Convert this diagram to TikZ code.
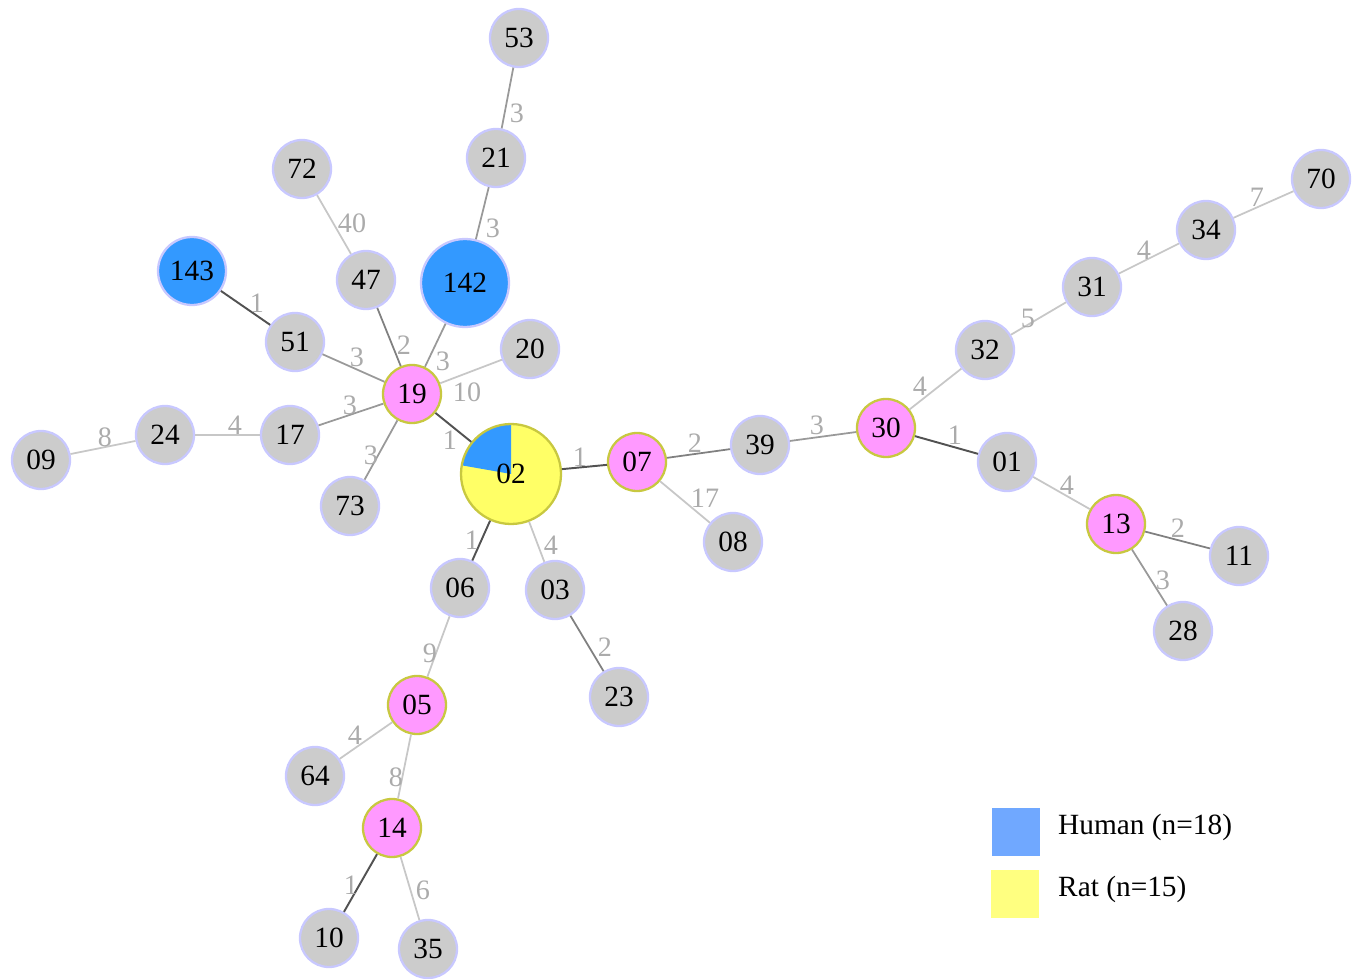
\documentclass[tikz,border=0pt]{standalone}
\usepackage{fontspec}
\setmainfont{Liberation Serif}
\definecolor{stgray}{HTML}{CCCCCC}
\definecolor{string}{HTML}{C8C8FF}
\definecolor{hubpink}{HTML}{FF99FF}
\definecolor{hubring}{HTML}{C8C840}
\definecolor{humanblue}{HTML}{3399FF}
\definecolor{ratyellow}{HTML}{FFFF66}
\definecolor{keyblue}{HTML}{70A8FF}
\definecolor{keyyellow}{HTML}{FFFF80}
\tikzstyle{isolate} = [circle,draw=string,line width=1.3pt,fill=stgray,minimum size=11.6mm,inner sep=0pt,font=\fontsize{16.7}{16.7}\selectfont]
\tikzstyle{hub} = [isolate,draw=hubring,fill=hubpink]
\tikzstyle{human} = [isolate,fill=humanblue]
\tikzstyle{weight} = [text=black!33,inner sep=0pt,font=\fontsize{16}{16}\selectfont]
\tikzstyle{wone} = [line width=1.1pt,black!68]
\tikzstyle{wtwo} = [line width=1pt,black!50]
\tikzstyle{wthree} = [line width=1pt,black!40]
\tikzstyle{wfar} = [line width=1pt,black!22]

\begin{document}
\begin{tikzpicture}[x=0.2mm,y=-0.2mm]
	\useasboundingbox (0,0) rectangle (1357,979);
	% sequence types
	\foreach \id/\x/\y in {53/519/38,21/496/158,72/302/169,47/366/280,51/295/342,20/530/349,17/290/435,24/165/435,09/41/460,73/350/506,39/760/445,08/733/542,32/985/350,31/1092/287,34/1206/230,70/1321/179,01/1007/462,11/1239/556,28/1183/631,06/460/588,03/555/590,23/619/697,64/315/776,10/329/938,35/428/949} {
		\node[isolate] (n\id) at (\x,\y) {\id};
	}
	\foreach \id/\x/\y in {19/412/394,07/637/462,30/886/428,13/1116/524,05/417/705,14/392/828} {
		\node[hub] (n\id) at (\x,\y) {\id};
	}
	\node[human,minimum size=17.6mm] (n142) at (465,283) {142};
	\node[human,minimum size=13.6mm] (n143) at (192,271) {143};
	\node[isolate,draw=hubring,fill=ratyellow,minimum size=20mm,
		path picture={\fill[humanblue] (path picture bounding box.center) -- ++(0mm,10mm)
		arc[start angle=90,end angle=170,radius=10mm] -- cycle;}] (n02) at (511,474) {\raisebox{-0.9mm}{02}};

	% links and distances
	\foreach \a/\b/\w/\lx/\ly/\s in {53/21/3/517/113/wthree,21/142/3/493/228/wthree,72/47/40/352/223/wfar,47/19/2/404/345/wtwo,142/19/3/443/361/wthree,143/51/1/257/303/wone,51/19/3/357/357/wthree,20/19/10/467/392/wfar,17/19/3/350/405/wthree,24/17/4/235/425/wfar,09/24/8/105/437/wfar,73/19/3/371/455/wthree,19/02/1/450/440/wone,02/07/1/580/457/wone,07/39/2/695/443/wtwo,07/08/17/705/498/wfar,39/30/3/817/425/wthree,30/32/4/920/386/wfar,32/31/5/1028/318/wfar,31/34/4/1144/250/wfar,34/70/7/1257/197/wfar,30/01/1/955/435/wone,01/13/4/1067/485/wfar,13/11/2/1178/528/wtwo,13/28/3/1163/580/wthree,02/06/1/472/540/wone,02/03/4/551/545/wfar,03/23/2/605/647/wtwo,06/05/9/430/653/wfar,05/64/4/355/735/wfar,05/14/8/396/777/wfar,14/10/1/351/885/wone,14/35/6/423/890/wfar} {
		\draw[\s] (n\a) -- (n\b);
		\node[weight] (w\a\b) at (\lx,\ly) {\w};
	}

	% legend
	\node[fill=keyblue,minimum size=9.6mm,inner sep=0pt] (keyhuman) at (1016,832) {};
	\node[fill=keyyellow,minimum size=9.6mm,inner sep=0pt] (keyrat) at (1015,894) {};
	\node[anchor=west,font=\fontsize{16.7}{16.7}\selectfont] (txthuman) at (1052,827) {Human (n=18)};
	\node[anchor=west,font=\fontsize{16.7}{16.7}\selectfont] (txtrat) at (1052,889) {Rat (n=15)};
\end{tikzpicture}
\end{document}
